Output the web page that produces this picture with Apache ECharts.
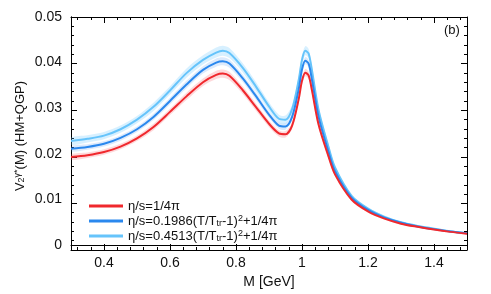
<!DOCTYPE html>
<html><head><meta charset="utf-8">
<script src="https://cdn.jsdelivr.net/npm/echarts@6/dist/echarts.min.js"></script>
<style>html,body{margin:0;padding:0;background:#fff}#c{width:491px;height:294px}</style>
</head><body><div id="c"></div>
<script>
const mass = [0.30,0.35,0.40,0.45,0.50,0.55,0.60,0.65,0.70,0.74,0.76,0.78,0.82,0.86,0.90,0.93,0.95,0.97,0.99,1.00,1.01,1.02,1.03,1.05,1.08,1.10,1.15,1.20,1.25,1.30,1.35,1.40,1.45,1.50];
const v2Ideal = [0.0193,0.0197,0.0204,0.0216,0.0234,0.0259,0.0292,0.0326,0.0357,0.0373,0.0376,0.0371,0.0340,0.0303,0.0266,0.0245,0.0243,0.0262,0.0320,0.0360,0.0378,0.0372,0.0340,0.0265,0.0195,0.0155,0.0100,0.0074,0.0058,0.0047,0.0040,0.0034,0.0029,0.0025];
const v2Eta1986 = [0.0211,0.0215,0.0222,0.0235,0.0254,0.0281,0.0316,0.0352,0.0384,0.0400,0.0403,0.0398,0.0366,0.0327,0.0286,0.0262,0.0260,0.0281,0.0342,0.0385,0.0404,0.0398,0.0363,0.0282,0.0205,0.0162,0.0104,0.0077,0.0060,0.0049,0.0041,0.0035,0.0030,0.0026];
const v2Eta4513 = [0.0228,0.0233,0.0240,0.0254,0.0275,0.0303,0.0339,0.0377,0.0406,0.0422,0.0426,0.0421,0.0389,0.0348,0.0304,0.0277,0.0275,0.0298,0.0362,0.0406,0.0426,0.0420,0.0384,0.0297,0.0216,0.0170,0.0108,0.0080,0.0062,0.0050,0.0042,0.0036,0.0030,0.0026];
const errIdeal = [0.0006,0.0006,0.0006,0.0006,0.0006,0.0007,0.0007,0.0008,0.0008,0.0009,0.0009,0.0009,0.0008,0.0008,0.0007,0.0007,0.0007,0.0007,0.0008,0.0008,0.0008,0.0008,0.0008,0.0007,0.0005,0.0004,0.0003,0.0003,0.0002,0.0002,0.0002,0.0002,0.0002,0.0002];
const errEta1986 = [0.0006,0.0006,0.0006,0.0006,0.0006,0.0007,0.0007,0.0008,0.0008,0.0009,0.0009,0.0009,0.0008,0.0008,0.0007,0.0007,0.0007,0.0007,0.0008,0.0008,0.0008,0.0008,0.0008,0.0007,0.0005,0.0004,0.0003,0.0003,0.0002,0.0002,0.0002,0.0002,0.0002,0.0002];
const errEta4513 = [0.0008,0.0008,0.0008,0.0008,0.0008,0.0009,0.0009,0.0010,0.0010,0.0011,0.0011,0.0011,0.0010,0.0010,0.0009,0.0009,0.0009,0.0009,0.0010,0.0010,0.0010,0.0010,0.0010,0.0008,0.0006,0.0005,0.0004,0.0003,0.0003,0.0002,0.0002,0.0002,0.0002,0.0002];
const seriesNames = ['η/s=1/4π','η/s=0.1986(T/Ttr-1)^2+1/4π','η/s=0.4513(T/Ttr-1)^2+1/4π'];
const legendRich = {
 'η/s=1/4π':'η/s=1/4π',
 'η/s=0.1986(T/Ttr-1)^2+1/4π':'η/s=0.1986(T/T{sub|tr}-1){sup|2}+1/4π',
 'η/s=0.4513(T/Ttr-1)^2+1/4π':'η/s=0.4513(T/T{sub|tr}-1){sup|2}+1/4π'
};
const lineColors = ['#f0282d','#2a88ee','#66c4fb'];
const bandColors = ['rgba(250,80,90,0.22)','rgba(60,140,240,0.18)','rgba(110,200,255,0.28)'];
const centers = [v2Ideal, v2Eta1986, v2Eta4513];
const errs = [errIdeal, errEta1986, errEta4513];

const series = [];
[2,1,0].forEach(k => {
  series.push({type:'custom', silent:true, z:1, xAxisIndex:0, yAxisIndex:0,
    data: mass.map((m,i)=>[m, centers[k][i]-errs[k][i], centers[k][i]+errs[k][i]]),
    encode:{x:0, y:[1,2]},
    renderItem: (params, api) => {
      if (params.dataIndex !== 0) return null;
      const up = [], lo = [];
      for (let i=0;i<mass.length;i++){
        up.push(api.coord([mass[i], centers[k][i]+errs[k][i]]));
        lo.push(api.coord([mass[i], centers[k][i]-errs[k][i]]));
      }
      return {type:'polygon', shape:{points: up.concat(lo.reverse()), smooth:0.3},
        style:{fill:bandColors[k]},
        clipPath:{type:'rect', shape:{x:params.coordSys.x, y:params.coordSys.y, width:params.coordSys.width, height:params.coordSys.height}}};
    }
  });
});
[2,1,0].forEach(k => {
  series.push({type:'line', name: seriesNames[k], xAxisIndex:0, yAxisIndex:0, data: mass.map((m,i)=>[m, centers[k][i]]),
    symbol:'none', smooth:0.3, lineStyle:{color:lineColors[k], width:2}, itemStyle:{color:lineColors[k]}, z:3});
});

const F = 'Liberation Sans, Arial, sans-serif';
const G = {left:71, right:24, top:17, bottom:44};
const tickAxis = (extra) => Object.assign({
  axisLine:{show:true, lineStyle:{color:'#000', width:1}},
  axisTick:{show:true, inside:false, length:6, lineStyle:{color:'#000', width:1}},
  minorTick:{show:true, splitNumber:5, length:3, lineStyle:{color:'#000', width:1}},
  splitLine:{show:false}, axisLabel:{show:false}
}, extra);
const hiddenAxis = (extra) => Object.assign({type:'value',
  axisLine:{show:false}, axisTick:{show:false}, minorTick:{show:false},
  axisLabel:{show:false}, splitLine:{show:false}}, extra);
const xRange = {type:'value', min:0.3, max:1.5, splitNumber:6};
const yRange = {type:'value', min:0, max:0.05, interval:0.01};

const chart = echarts.init(document.getElementById('c'), null, {renderer:'canvas'});
chart.setOption({
  animation:false,
  backgroundColor:'#fff',
  grid:[Object.assign({},G), Object.assign({},G), Object.assign({},G), Object.assign({},G), Object.assign({},G)],
  xAxis:[
    Object.assign({}, xRange, {gridIndex:0, position:'bottom',
      axisLine:{show:true, lineStyle:{color:'#000', width:1}},
      axisTick:{show:false}, minorTick:{show:false}, splitLine:{show:false},
      name:'M [GeV]', nameLocation:'middle', nameGap:27,
      nameTextStyle:{fontFamily:F, fontSize:14, color:'#111'},
      axisLabel:{showMinLabel:false, showMaxLabel:false, margin:11, fontFamily:F, fontSize:14, color:'#111',
        formatter: v => String(Math.round(v*10)/10)}}),
    tickAxis(Object.assign({}, xRange, {gridIndex:1, position:'top'})),
    tickAxis(Object.assign({}, xRange, {gridIndex:2, position:'bottom'})),
    hiddenAxis({gridIndex:3, min:0, max:1.2}),
    hiddenAxis({gridIndex:4, min:-1.2, max:0})
  ],
  yAxis:[
    Object.assign({}, yRange, {gridIndex:0, position:'left',
      axisLine:{show:true, lineStyle:{color:'#000', width:1}},
      axisTick:{show:false}, minorTick:{show:false}, splitLine:{show:false},
      axisLabel:{margin:9, fontFamily:F, fontSize:14, color:'#111'}}),
    hiddenAxis({gridIndex:1, min:0, max:0.05}),
    hiddenAxis({gridIndex:2, min:-0.05, max:0}),
    tickAxis(Object.assign({}, yRange, {gridIndex:3, position:'right'})),
    tickAxis(Object.assign({}, yRange, {gridIndex:4, position:'left'}))
  ],
  legend:{
    data: seriesNames, orient:'vertical', left:84, top:194, itemGap:1,
    itemWidth:34, itemHeight:3, icon:'rect',
    formatter: n => legendRich[n],
    textStyle:{fontFamily:F, fontSize:13, color:'#111', lineHeight:14,
      rich:{sub:{fontSize:9, lineHeight:14, verticalAlign:'bottom', color:'#111', fontFamily:F},
            sup:{fontSize:9, lineHeight:14, verticalAlign:'top', color:'#111', fontFamily:F}}}
  },
  graphic:[
    {type:'text', left:444, top:24, style:{text:'(b)', font:'13px Liberation Sans, Arial', fill:'#111'}},
    {type:'text', x:20, y:136, rotation:Math.PI/2, originX:0, originY:0,
      style:{text:'V{sub|2}{sup|γ*}(M) (HM+QGP)', align:'center', verticalAlign:'middle',
        font:'13px Liberation Sans, Arial', fill:'#111',
        rich:{sub:{fontSize:9, verticalAlign:'bottom', fill:'#111', fontFamily:F},
              sup:{fontSize:9, verticalAlign:'top', fill:'#111', fontFamily:F}}}}
  ],
  series: series
});
</script></body></html>
